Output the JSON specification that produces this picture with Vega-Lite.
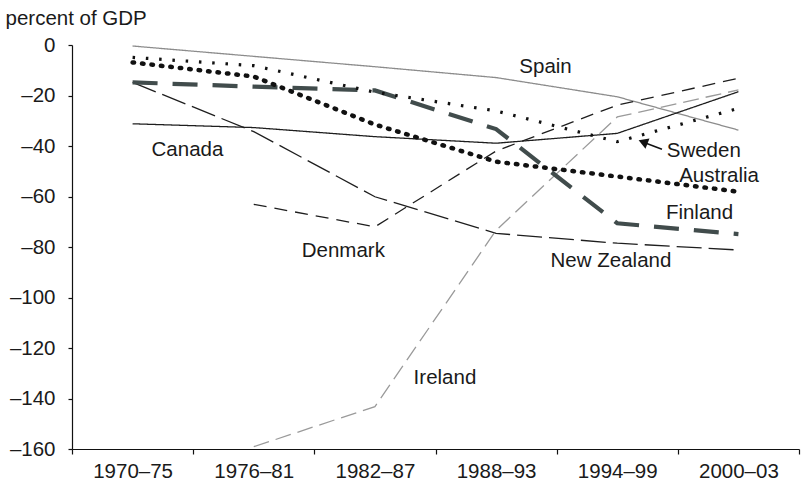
{
  "$schema": "https://vega.github.io/schema/vega-lite/v6.json",
  "width": 727,
  "height": 404,
  "autosize": {"type": "none"},
  "padding": {"left": 72, "top": 45, "right": 8, "bottom": 33},
  "background": "white",
  "config": {
    "view": {"stroke": null},
    "font": "Liberation Sans",
    "axis": {
      "grid": false,
      "domainColor": "#111111",
      "tickColor": "#111111",
      "labelColor": "#1a1a1a",
      "titleColor": "#1a1a1a",
      "labelFont": "Liberation Sans",
      "titleFont": "Liberation Sans",
      "labelFontSize": 20.5,
      "titleFontSize": 20.5,
      "titleFontWeight": "normal",
      "domainWidth": 1.2,
      "tickWidth": 1.2
    }
  },
  "datasets": {
    "series": [
      {"country": "Spain", "period": "1970–75", "value": -0.4},
      {"country": "Spain", "period": "1976–81", "value": -4.5},
      {"country": "Spain", "period": "1982–87", "value": -8.6},
      {"country": "Spain", "period": "1988–93", "value": -12.9},
      {"country": "Spain", "period": "1994–99", "value": -20.5},
      {"country": "Spain", "period": "2000–03", "value": -33.7},
      {"country": "Canada", "period": "1970–75", "value": -31.2},
      {"country": "Canada", "period": "1976–81", "value": -32.7},
      {"country": "Canada", "period": "1982–87", "value": -36.3},
      {"country": "Canada", "period": "1988–93", "value": -38.9},
      {"country": "Canada", "period": "1994–99", "value": -35.0},
      {"country": "Canada", "period": "2000–03", "value": -18.5},
      {"country": "Sweden", "period": "1970–75", "value": -4.9},
      {"country": "Sweden", "period": "1976–81", "value": -8.2},
      {"country": "Sweden", "period": "1982–87", "value": -18.7},
      {"country": "Sweden", "period": "1988–93", "value": -26.1},
      {"country": "Sweden", "period": "1994–99", "value": -38.3},
      {"country": "Sweden", "period": "2000–03", "value": -25.1},
      {"country": "Australia", "period": "1970–75", "value": -6.9},
      {"country": "Australia", "period": "1976–81", "value": -12.5},
      {"country": "Australia", "period": "1982–87", "value": -31.5},
      {"country": "Australia", "period": "1988–93", "value": -46.2},
      {"country": "Australia", "period": "1994–99", "value": -52.1},
      {"country": "Australia", "period": "2000–03", "value": -58.1},
      {"country": "Finland", "period": "1970–75", "value": -14.8},
      {"country": "Finland", "period": "1976–81", "value": -16.5},
      {"country": "Finland", "period": "1982–87", "value": -18.0},
      {"country": "Finland", "period": "1988–93", "value": -33.3},
      {"country": "Finland", "period": "1994–99", "value": -70.6},
      {"country": "Finland", "period": "2000–03", "value": -74.9},
      {"country": "New Zealand", "period": "1970–75", "value": -14.8},
      {"country": "New Zealand", "period": "1976–81", "value": -34.3},
      {"country": "New Zealand", "period": "1982–87", "value": -60.1},
      {"country": "New Zealand", "period": "1988–93", "value": -74.6},
      {"country": "New Zealand", "period": "1994–99", "value": -78.5},
      {"country": "New Zealand", "period": "2000–03", "value": -81.2},
      {"country": "Denmark", "period": "1976–81", "value": -63.1},
      {"country": "Denmark", "period": "1982–87", "value": -72.0},
      {"country": "Denmark", "period": "1988–93", "value": -42.0},
      {"country": "Denmark", "period": "1994–99", "value": -23.8},
      {"country": "Denmark", "period": "2000–03", "value": -13.2},
      {"country": "Ireland", "period": "1976–81", "value": -159.1},
      {"country": "Ireland", "period": "1982–87", "value": -143.2},
      {"country": "Ireland", "period": "1988–93", "value": -73.4},
      {"country": "Ireland", "period": "1994–99", "value": -28.5},
      {"country": "Ireland", "period": "2000–03", "value": -17.8}
    ],
    "labels": [
      {"label": "Spain", "pos": 3.908, "value": -11.1},
      {"label": "Canada", "pos": 0.953, "value": -44.1},
      {"label": "Sweden", "pos": 5.214, "value": -44.2},
      {"label": "Australia", "pos": 5.34, "value": -54.3},
      {"label": "Finland", "pos": 5.179, "value": -68.9},
      {"label": "New Zealand", "pos": 4.448, "value": -88.0},
      {"label": "Denmark", "pos": 2.239, "value": -83.8},
      {"label": "Ireland", "pos": 3.078, "value": -134.3}
    ],
    "arrow": [
      {"pos": 4.869, "value": -41.3, "pos2": 4.70, "value2": -38.2}
    ],
    "arrowhead": [
      {"pos": 4.713, "value": -38.4}
    ]
  },
  "layer": [
    {
      "layer": [
        {
          "data": {"name": "series"},
          "transform": [{"filter": "indexof(['Spain','Canada','New Zealand','Denmark','Ireland'], datum.country) >= 0"}],
          "mark": {"type": "line", "strokeCap": "butt", "strokeJoin": "miter", "strokeWidth": 1.3},
          "encoding": {
            "x": {
              "field": "period",
              "type": "ordinal",
              "bandPosition": 0.5,
              "scale": {
                "type": "band",
                "domain": ["1970–75", "1976–81", "1982–87", "1988–93", "1994–99", "2000–03"],
                "paddingInner": 0,
                "paddingOuter": 0
              },
              "axis": {
                "title": null,
                "labelAngle": 0,
                "tickBand": "extent",
                "tickSize": 5,
                "labelPadding": 7
              }
            },
            "y": {
              "field": "value",
              "type": "quantitative",
              "scale": {"domain": [-160, 0], "nice": false, "zero": false},
              "axis": {
                "title": "percent of GDP",
                "titleAngle": 0,
                "titleAlign": "left",
                "titleBaseline": "alphabetic",
                "titleX": -67,
                "titleY": -21,
                "values": [-160, -140, -120, -100, -80, -60, -40, -20, 0],
                "labelExpr": "datum.value < 0 ? '–' + abs(datum.value) : datum.label",
                "tickSize": 4,
                "labelPadding": 13
              }
            },
            "color": {
              "field": "country",
              "type": "nominal",
              "scale": {
                "domain": ["Spain", "Canada", "New Zealand", "Denmark", "Ireland"],
                "range": ["#8c8c8c", "#1e1e1e", "#1e1e1e", "#1e1e1e", "#9a9a9a"]
              },
              "legend": null
            },
            "strokeDash": {
              "field": "country",
              "type": "nominal",
              "scale": {
                "domain": ["Spain", "Canada", "New Zealand", "Denmark", "Ireland"],
                "range": [[1, 0], [1, 0], [25, 7], [13, 8], [16, 7]]
              },
              "legend": null
            }
          }
        },
        {
          "data": {"name": "series"},
          "transform": [{"filter": "datum.country === 'Finland'"}],
          "mark": {
            "type": "line",
            "strokeCap": "butt",
            "strokeJoin": "miter",
            "strokeDash": [25, 15],
            "strokeWidth": 4.2,
            "color": "#414c4c"
          },
          "encoding": {
            "x": {"field": "period", "type": "ordinal", "bandPosition": 0.5},
            "y": {"field": "value", "type": "quantitative"}
          }
        },
        {
          "data": {"name": "series"},
          "transform": [{"filter": "datum.country === 'Sweden'"}],
          "mark": {
            "type": "line",
            "strokeCap": "butt",
            "strokeDash": [2.5, 10.8],
            "strokeWidth": 3.2,
            "color": "#111111"
          },
          "encoding": {
            "x": {"field": "period", "type": "ordinal", "bandPosition": 0.5},
            "y": {"field": "value", "type": "quantitative"}
          }
        },
        {
          "data": {"name": "series"},
          "transform": [{"filter": "datum.country === 'Australia'"}],
          "mark": {
            "type": "line",
            "strokeCap": "round",
            "strokeDash": [1.5, 8],
            "strokeWidth": 4.5,
            "color": "#111111"
          },
          "encoding": {
            "x": {"field": "period", "type": "ordinal", "bandPosition": 0.5},
            "y": {"field": "value", "type": "quantitative"}
          }
        },
        {
          "mark": {"type": "rule", "color": "#111111", "strokeWidth": 1.5},
          "encoding": {"y": {"datum": 0}}
        }
      ]
    },
    {
      "layer": [
        {
          "data": {"name": "labels"},
          "mark": {
            "type": "text",
            "font": "Liberation Sans",
            "fontSize": 20.5,
            "color": "#1a1a1a",
            "align": "center",
            "baseline": "alphabetic"
          },
          "encoding": {
            "x": {
              "field": "pos",
              "type": "quantitative",
              "scale": {"domain": [0, 6], "nice": false, "zero": false},
              "axis": null
            },
            "y": {"field": "value", "type": "quantitative"},
            "text": {"field": "label"}
          }
        },
        {
          "data": {"name": "arrow"},
          "mark": {"type": "rule", "color": "#111111", "strokeWidth": 1.5},
          "encoding": {
            "x": {"field": "pos", "type": "quantitative"},
            "x2": {"field": "pos2"},
            "y": {"field": "value", "type": "quantitative"},
            "y2": {"field": "value2"}
          }
        },
        {
          "data": {"name": "arrowhead"},
          "mark": {
            "type": "point",
            "shape": "triangle-up",
            "filled": true,
            "color": "#111111",
            "opacity": 1,
            "size": 120,
            "angle": 291.4
          },
          "encoding": {
            "x": {"field": "pos", "type": "quantitative"},
            "y": {"field": "value", "type": "quantitative"}
          }
        }
      ]
    }
  ],
  "resolve": {"scale": {"x": "independent"}}
}
